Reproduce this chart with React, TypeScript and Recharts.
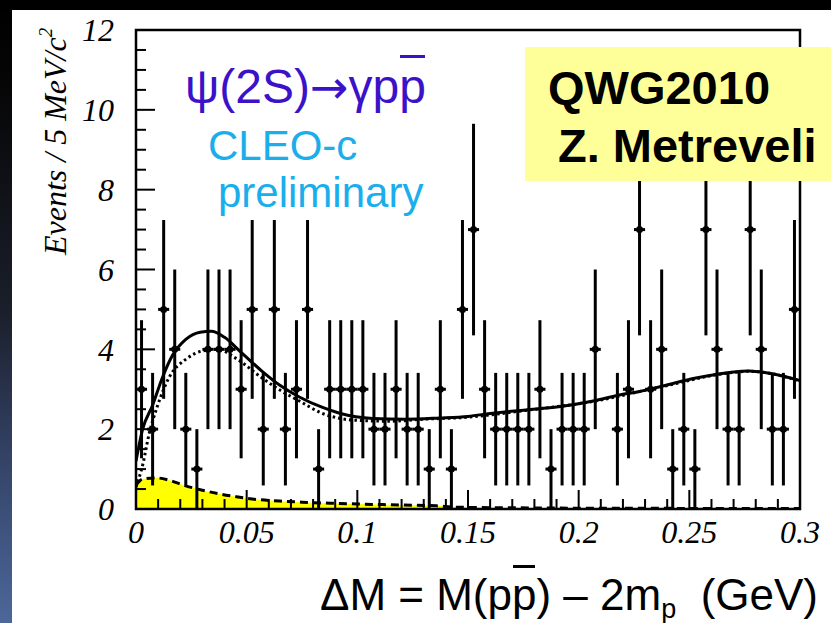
import {
  ComposedChart,
  Line,
  Area,
  Scatter,
  ErrorBar,
  XAxis,
  YAxis,
  ReferenceArea,
} from 'recharts';

// events per 5 MeV bin, 0 - 0.3 GeV (60 bins)
const binWidth = 0.005;
const counts = [
  3, 2, 5, 4, 2, 1, 4, 4, 4, 3,
  5, 2, 5, 2, 3, 5, 1, 3, 3, 3,
  3, 2, 2, 3, 2, 2, 1, 3, 1, 5,
  7, 3, 2, 2, 2, 2, 3, 1, 2, 2,
  2, 4, 0, 2, 3, 7, 3, 4, 1, 2,
  1, 7, 4, 2, 2, 7, 4, 2, 2, 5,
];

// vertical error bar half-length per count
const statErr: Record<number, number> = { 1: 1.0, 2: 1.41, 3: 1.73, 4: 2.0, 5: 2.24, 7: 2.65 };

// full fit (solid)
const fitX = [0, 0.003, 0.0075, 0.012, 0.0165, 0.0225, 0.029, 0.034, 0.04, 0.047, 0.057, 0.065, 0.074, 0.084, 0.092, 0.107, 0.122, 0.137, 0.15, 0.161, 0.176, 0.191, 0.206, 0.218, 0.228, 0.238, 0.253, 0.268, 0.277, 0.288, 0.3];
const fitY = [1.2, 2.0, 2.6, 3.3, 3.85, 4.25, 4.43, 4.45, 4.3, 3.95, 3.45, 3.1, 2.8, 2.55, 2.4, 2.27, 2.25, 2.28, 2.32, 2.4, 2.48, 2.56, 2.7, 2.85, 2.95, 3.08, 3.28, 3.42, 3.46, 3.38, 3.22];

// alternative fit (dotted)
const altX = [0, 0.003, 0.006, 0.0095, 0.015, 0.0225, 0.03, 0.037, 0.045, 0.057, 0.065, 0.074, 0.084, 0.1, 0.115, 0.13, 0.15, 0.176, 0.206, 0.238, 0.268, 0.277, 0.3];
const altY = [0.55, 1.1, 1.9, 2.55, 3.3, 3.75, 3.96, 4.0, 3.78, 3.28, 2.98, 2.7, 2.4, 2.22, 2.2, 2.25, 2.3, 2.47, 2.69, 3.07, 3.41, 3.45, 3.21];

// background shape (yellow)
const bkgX = [0, 0.003, 0.009, 0.015, 0.0225, 0.03, 0.0376, 0.045, 0.0525, 0.065, 0.075, 0.09, 0.1, 0.12, 0.1357, 0.143, 0.15, 0.17, 0.2, 0.25, 0.3];
const bkgY = [0.6, 0.75, 0.78, 0.72, 0.58, 0.47, 0.38, 0.31, 0.25, 0.2, 0.17, 0.14, 0.125, 0.1, 0.08, 0.05, 0.04, 0.03, 0.02, 0.015, 0.01];

const xTicks = [0, 0.01, 0.02, 0.03, 0.04, 0.05, 0.06, 0.07, 0.08, 0.09, 0.1, 0.11, 0.12, 0.13, 0.14, 0.15, 0.16, 0.17, 0.18, 0.19, 0.2, 0.21, 0.22, 0.23, 0.24, 0.25, 0.26, 0.27, 0.28, 0.29, 0.3];
const xMajor = [0, 0.05, 0.1, 0.15, 0.2, 0.25, 0.3];
const xMajorLabels = ['0', '0.05', '0.1', '0.15', '0.2', '0.25', '0.3'];
const yTicks = [0, 0.5, 1, 1.5, 2, 2.5, 3, 3.5, 4, 4.5, 5, 5.5, 6, 6.5, 7, 7.5, 8, 8.5, 9, 9.5, 10, 10.5, 11, 11.5, 12];
const yMajor = [0, 2, 4, 6, 8, 10, 12];
const yMajorLabels = ['0', '2', '4', '6', '8', '10', '12'];

const points = counts
  .map((n, i) => ({ x: (i + 0.5) * binWidth, y: n, ex: binWidth / 2, ey: statErr[n] }))
  .filter((p) => p.y > 0);
const fitCurve = fitX.map((x, i) => ({ x, y: fitY[i] }));
const altCurve = altX.map((x, i) => ({ x, y: altY[i] }));
const bkgCurve = bkgX.map((x, i) => ({ x, y: bkgY[i] }));

const serif = '"Liberation Serif", "Times New Roman", serif';
const sans = '"Liberation Sans", Arial, sans-serif';

const XTick = (props: any) => {
  const { x, y, payload } = props;
  const k = xMajor.findIndex((m) => Math.abs(m - payload.value) < 1e-6);
  return (
    <g>
      <line x1={x} x2={x} y1={y} y2={y - (k >= 0 ? 19 : 10)} stroke="#000" strokeWidth={2} />
      {k >= 0 && (
        <text x={x} y={y + 34} textAnchor="middle" fontFamily={serif} fontStyle="italic" fontSize={32} fill="#000">
          {xMajorLabels[k]}
        </text>
      )}
    </g>
  );
};

const YTick = (props: any) => {
  const { x, y, payload } = props;
  const k = yMajor.findIndex((m) => Math.abs(m - payload.value) < 1e-6);
  return (
    <g>
      <line x1={x} x2={x + (k >= 0 ? 19 : 10)} y1={y} y2={y} stroke="#000" strokeWidth={2} />
      {k >= 0 && (
        <text x={x - 22} y={y} dy="0.35em" textAnchor="end" fontFamily={serif} fontStyle="italic" fontSize={32} fill="#000">
          {yMajorLabels[k]}
        </text>
      )}
    </g>
  );
};

const Marker = (props: any) => <circle cx={props.cx} cy={props.cy} r={3.5} fill="#000" />;

const Bar = ({ top, color }: { top: number; color: string }) => (
  <span style={{ position: 'absolute', left: 1, right: 1, top, height: 3, background: color }} />
);

export default function App() {
  const titleColor = '#3b12c9';
  const cleoColor = '#1aaeea';
  return (
    <div style={{ position: 'fixed', left: 0, top: 0, width: 831, height: 623, background: '#fff', overflow: 'hidden' }}>
      <ComposedChart width={831} height={623} margin={{ top: 30, right: 31, bottom: 54, left: 76 }}>
        <XAxis
          type="number"
          dataKey="x"
          domain={[0, 0.3]}
          ticks={xTicks}
          interval={0}
          tickSize={0}
          tickMargin={0}
          tick={XTick}
          tickLine={false}
          axisLine={false}
          height={60}
          allowDataOverflow
        />
        <YAxis
          type="number"
          dataKey="y"
          domain={[0, 12]}
          ticks={yTicks}
          interval={0}
          tickSize={0}
          tickMargin={0}
          tick={YTick}
          tickLine={false}
          axisLine={false}
          width={60}
          allowDataOverflow
        />
        <Area
          data={bkgCurve}
          dataKey="y"
          type="monotone"
          fill="#ffff00"
          fillOpacity={1}
          stroke="#000"
          strokeWidth={3}
          strokeDasharray="8 5"
          isAnimationActive={false}
        />
        <Line
          data={altCurve}
          dataKey="y"
          type="monotone"
          stroke="#000"
          strokeWidth={3}
          strokeDasharray="2.5 3"
          dot={false}
          isAnimationActive={false}
        />
        <Line
          data={fitCurve}
          dataKey="y"
          type="monotone"
          stroke="#000"
          strokeWidth={3}
          dot={false}
          isAnimationActive={false}
        />
        <Scatter data={points} dataKey="y" shape={Marker} isAnimationActive={false}>
          <ErrorBar dataKey="ey" direction="y" width={0} stroke="#000" strokeWidth={3} isAnimationActive={false} />
          <ErrorBar dataKey="ex" direction="x" width={0} stroke="#000" strokeWidth={3} isAnimationActive={false} />
        </Scatter>
        <ReferenceArea x1={0} x2={0.3} y1={0} y2={12} fill="none" stroke="#000" strokeWidth={2.5} ifOverflow="visible" />
      </ComposedChart>

      {/* y axis title */}
      <svg width={831} height={623} style={{ position: 'absolute', left: 0, top: 0, pointerEvents: 'none' }}>
        <text transform="translate(66,255) rotate(-90)" fontFamily={serif} fontStyle="italic" fontSize={32} fill="#000">
          Events / 5 MeV/c<tspan fontSize={19} dy={-14}>2</tspan>
        </text>
      </svg>

      <div style={{ position: 'absolute', left: 185, top: 63, fontFamily: sans, fontSize: 48, lineHeight: 1, color: titleColor, whiteSpace: 'nowrap' }}>
        ψ(2S)<span style={{ fontFamily: '"DejaVu Sans", sans-serif', fontSize: 46 }}>→</span>γp
        <span style={{ position: 'relative' }}>p<Bar top={-5} color={titleColor} /></span>
      </div>
      <div style={{ position: 'absolute', left: 208, top: 125, fontFamily: sans, fontSize: 42, lineHeight: 1, color: cleoColor, whiteSpace: 'nowrap' }}>
        CLEO-c
      </div>
      <div style={{ position: 'absolute', left: 218, top: 172, fontFamily: sans, fontSize: 42, lineHeight: 1, color: cleoColor, whiteSpace: 'nowrap' }}>
        preliminary
      </div>

      <div style={{ position: 'absolute', left: 525, top: 47, width: 306, height: 134, background: '#ffff99' }} />
      <div style={{ position: 'absolute', left: 548, top: 64, fontFamily: sans, fontWeight: 700, fontSize: 47, lineHeight: 1, color: '#000', whiteSpace: 'nowrap' }}>
        QWG2010
      </div>
      <div style={{ position: 'absolute', left: 558, top: 122, fontFamily: sans, fontWeight: 700, fontSize: 47, lineHeight: 1, color: '#000', whiteSpace: 'nowrap' }}>
        Z. Metreveli
      </div>

      <div style={{ position: 'absolute', left: 320, top: 573, fontFamily: sans, fontSize: 44, lineHeight: 1, color: '#000', whiteSpace: 'nowrap' }}>
        ΔM = M(p<span style={{ position: 'relative' }}>p<Bar top={-5} color="#000" /></span>) – 2m
        <span style={{ fontSize: 27, position: 'relative', top: 8 }}>p</span>
        {'\u00a0\u00a0'}(GeV)
      </div>

      <div style={{ position: 'absolute', left: 0, top: 0, width: 12, height: 623, background: 'linear-gradient(to bottom, #000 0%, #050505 12%, #1b1f2b 50%, #35456a 75%, #4c6799 100%)' }} />
      <div style={{ position: 'absolute', left: 0, top: 0, width: 831, height: 10, background: '#000' }} />
    </div>
  );
}
